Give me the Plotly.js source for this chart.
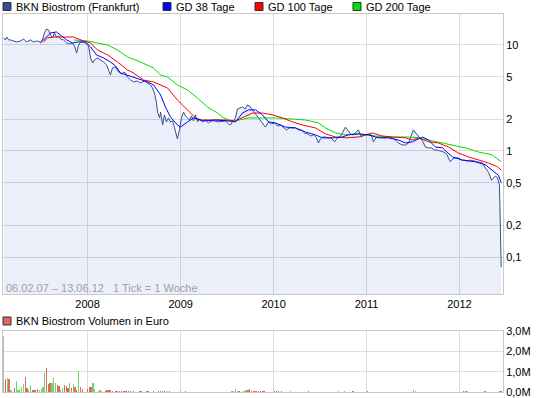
<!DOCTYPE html>
<html>
<head>
<meta charset="utf-8">
<script src="https://cdn.plot.ly/plotly-3.0.1.min.js"></script>
<style>
html,body{margin:0;padding:0;background:#fff;}
#chart{width:545px;height:398px;}
</style>
</head>
<body>
<div id="chart"></div>
<script>
// ---------- DATA ----------
const priceDates = [
'2007-02-06','2007-02-12','2007-02-18','2007-02-25','2007-03-05','2007-03-16','2007-03-28','2007-04-13','2007-04-25','2007-05-06',
'2007-05-22','2007-06-03','2007-06-15','2007-06-30','2007-07-08','2007-07-16','2007-07-24','2007-08-01','2007-08-09','2007-08-17',
'2007-08-24','2007-09-01','2007-09-09','2007-09-17','2007-09-29','2007-10-11','2007-10-22','2007-11-03','2007-11-11','2007-11-19',
'2007-11-27','2007-12-05','2007-12-16','2007-12-28','2008-01-05','2008-01-13','2008-01-21','2008-01-28','2008-02-09','2008-02-21',
'2008-03-04','2008-03-16','2008-03-23','2008-03-31','2008-04-08','2008-04-20','2008-05-02','2008-05-14','2008-05-25','2008-06-06',
'2008-06-18','2008-06-30','2008-07-15','2008-07-27','2008-08-12','2008-08-24','2008-09-04','2008-09-12','2008-09-20','2008-09-28',
'2008-10-02','2008-10-10','2008-10-14','2008-10-22','2008-10-29','2008-11-06','2008-11-14','2008-11-22','2008-11-30','2008-12-08',
'2008-12-16','2008-12-19','2008-12-27','2009-01-04','2009-01-12','2009-01-20','2009-01-28','2009-02-05','2009-02-12','2009-02-20',
'2009-02-28','2009-03-08','2009-03-16','2009-03-28','2009-04-08','2009-04-20','2009-05-02','2009-05-14','2009-05-29','2009-06-14',
'2009-06-26','2009-07-08','2009-07-16','2009-07-23','2009-08-04','2009-08-12','2009-08-24','2009-09-01','2009-09-12','2009-09-20',
'2009-09-28','2009-10-10','2009-10-22','2009-11-03','2009-11-14','2009-11-22','2009-11-30','2009-12-12','2009-12-24','2010-01-04',
'2010-01-16','2010-01-28','2010-02-09','2010-02-20','2010-03-04','2010-03-16','2010-03-28','2010-04-09','2010-04-20','2010-05-02',
'2010-05-14','2010-05-26','2010-06-07','2010-06-18','2010-06-26','2010-07-04','2010-07-12','2010-07-24','2010-08-04','2010-08-16',
'2010-08-28','2010-09-09','2010-09-21','2010-09-28','2010-10-10','2010-10-18','2010-10-30','2010-11-07','2010-11-18','2010-11-30',
'2010-12-12','2010-12-24','2011-01-08','2011-01-20','2011-01-28','2011-02-09','2011-02-25','2011-03-12','2011-03-28','2011-04-13',
'2011-04-25','2011-05-06','2011-05-22','2011-06-03','2011-06-15','2011-06-22','2011-07-04','2011-07-16','2011-07-28','2011-08-09',
'2011-08-20','2011-09-01','2011-09-13','2011-09-25','2011-10-06','2011-10-18','2011-10-30','2011-11-11','2011-11-19','2011-11-26',
'2011-12-04','2011-12-16','2011-12-28','2012-01-09','2012-01-20','2012-02-01','2012-02-13','2012-02-25','2012-03-08','2012-03-19',
'2012-03-31','2012-04-12','2012-04-24','2012-05-06','2012-05-13','2012-05-21','2012-05-29','2012-06-06','2012-06-13'
];
const priceValues = [
11.64,11.15,11.89,11.15,11.15,10.91,10.67,10.91,11.39,10.67,
11.15,10.67,10.91,10.67,11.15,12.98,14.16,13.85,12.42,11.64,
12.98,11.89,12.16,11.39,11.15,10.44,10.22,10.44,9.79,8.41,
10.0,10.67,10.67,10.22,9.79,7.54,6.76,7.22,7.54,7.22,
6.91,6.48,5.81,5.21,6.07,6.20,5.56,5.33,5.56,4.99,
4.67,4.48,4.57,4.38,4.57,4.38,4.20,3.93,3.52,2.84,
2.33,2.05,2.33,1.76,2.19,1.88,2.05,1.88,1.92,1.65,
1.385,1.30,1.58,2.05,2.33,2.14,2.05,1.96,2.14,1.92,
2.19,1.88,2.00,1.88,1.96,1.84,1.92,1.92,1.88,1.92,
1.92,1.80,1.76,1.88,2.05,2.49,2.54,2.60,2.49,2.72,
2.66,2.44,2.28,2.05,1.88,1.76,1.68,1.88,1.80,1.84,
1.72,1.76,1.65,1.58,1.65,1.65,1.65,1.58,1.58,1.48,
1.45,1.385,1.42,1.33,1.19,1.30,1.355,1.355,1.33,1.33,
1.22,1.33,1.385,1.48,1.68,1.58,1.45,1.42,1.48,1.58,
1.355,1.42,1.42,1.42,1.22,1.355,1.355,1.33,1.355,1.33,
1.27,1.19,1.14,1.14,1.19,1.33,1.58,1.45,1.355,1.24,
1.09,1.07,1.07,1.02,1.02,1.00,0.98,0.94,0.86,0.79,
0.84,0.86,0.86,0.82,0.82,0.805,0.82,0.805,0.79,0.79,
0.77,0.69,0.63,0.53,0.56,0.58,0.56,0.48,0.08
];

const gd38Dates = [
'2007-06-30','2007-07-20','2007-08-09','2007-09-01','2007-09-17','2007-10-11','2007-11-03','2007-11-23','2007-12-24','2008-01-13',
'2008-02-05','2008-03-04','2008-03-31','2008-04-20','2008-05-10','2008-06-30','2008-08-24','2008-09-16','2008-10-14','2008-11-02',
'2008-11-22','2008-12-19','2008-12-31','2009-01-28','2009-02-20','2009-04-01','2009-05-18','2009-07-08','2009-08-04','2009-09-01',
'2009-09-24','2009-10-22','2009-11-18','2009-12-12','2010-01-08','2010-02-17','2010-03-28','2010-05-06','2010-06-14','2010-07-12',
'2010-08-20','2010-09-28','2010-10-22','2010-11-30','2011-01-08','2011-02-17','2011-03-28','2011-05-06','2011-06-03','2011-06-30',
'2011-08-09','2011-09-01','2011-09-29','2011-10-26','2011-12-04','2012-01-13','2012-03-04','2012-04-12','2012-05-09','2012-06-02',
'2012-06-13'
];
const gd38Values = [
10.44,11.64,12.98,13.27,12.42,11.15,10.44,10.67,10.67,9.57,
8.05,7.54,6.91,6.34,5.44,4.99,4.48,4.20,3.38,2.60,
2.09,1.76,1.68,1.88,2.05,1.92,1.96,1.92,1.88,2.28,
2.44,2.44,2.19,1.88,1.84,1.68,1.65,1.51,1.42,1.33,
1.33,1.355,1.42,1.45,1.42,1.33,1.33,1.27,1.19,1.22,
1.355,1.27,1.09,1.07,0.88,0.82,0.79,0.74,0.66,0.59,
0.50
];

const gd100Dates = [
'2007-07-12','2007-07-28','2007-08-20','2007-11-07','2007-12-16','2008-01-13','2008-02-09','2008-03-20','2008-04-28','2008-06-06',
'2008-06-30','2008-08-08','2008-09-16','2008-10-14','2008-11-10','2008-12-19','2009-01-28','2009-02-28','2009-03-20','2009-05-10',
'2009-06-26','2009-08-04','2009-09-01','2009-10-10','2009-11-18','2009-12-28','2010-02-05','2010-03-16','2010-04-24','2010-06-14',
'2010-07-24','2010-09-01','2010-10-10','2010-11-30','2011-01-24','2011-03-04','2011-04-13','2011-06-03','2011-06-30','2011-07-24',
'2011-09-01','2011-10-10','2011-11-19','2011-12-28','2012-02-05','2012-03-15','2012-04-24','2012-05-29','2012-06-13'
];
const gd100Values = [
10.67,11.64,11.89,11.89,10.91,10.44,8.97,8.05,6.91,5.81,
5.44,4.67,4.48,4.20,3.93,3.03,2.44,2.05,1.96,1.96,
1.96,1.92,2.05,2.28,2.28,2.19,2.05,1.88,1.76,1.65,
1.45,1.355,1.33,1.355,1.48,1.385,1.355,1.33,1.27,1.33,
1.22,1.19,1.09,0.957,0.88,0.82,0.77,0.71,0.66
];

const gd200Dates = [
'2007-11-07','2008-01-01','2008-02-09','2008-03-20','2008-04-28','2008-06-06','2008-07-27','2008-09-16','2008-10-14','2008-11-10',
'2008-12-19','2009-01-28','2009-03-08','2009-04-16','2009-05-26','2009-06-14','2009-07-08','2009-08-04','2009-09-24','2009-11-03',
'2010-01-08','2010-03-16','2010-05-06','2010-06-26','2010-07-24','2010-09-01','2010-10-10','2010-11-30','2011-02-05','2011-04-13',
'2011-06-15','2011-07-24','2011-09-01','2011-10-10','2011-12-04','2012-01-24','2012-03-15','2012-05-09','2012-06-13'
];
const gd200Values = [
11.15,10.91,10.44,10.0,8.97,7.71,6.91,6.07,5.21,4.99,
4.20,3.76,3.16,2.60,2.28,2.09,1.96,1.92,2.05,2.05,
2.05,2.00,1.96,1.84,1.65,1.48,1.42,1.45,1.385,1.355,
1.355,1.33,1.27,1.22,1.14,1.07,0.98,0.917,0.79
];

// weekly volume in million euro; dir: 'd' = falling week (red), 'u' = rising week (green), 'n' = neutral
const volDates = [
'2007-02-06','2007-02-13','2007-02-20','2007-02-27','2007-03-06','2007-03-20','2007-03-27','2007-04-03','2007-04-10','2007-04-17',
'2007-04-24','2007-05-01','2007-05-08','2007-05-15','2007-05-22','2007-05-29','2007-06-05','2007-06-12','2007-06-19','2007-06-26',
'2007-07-03','2007-07-10','2007-07-17','2007-07-24','2007-07-31','2007-08-07','2007-08-14','2007-08-21','2007-08-28','2007-09-04',
'2007-09-11','2007-09-18','2007-09-25','2007-10-02','2007-10-09','2007-10-16','2007-10-23','2007-10-30','2007-11-06','2007-11-13',
'2007-11-20','2007-11-27','2007-12-04','2007-12-11','2008-01-01','2008-01-08','2008-01-15','2008-01-22','2008-01-29','2008-02-12',
'2008-02-19','2008-02-26','2008-03-11','2008-03-18','2008-03-25','2008-04-01','2008-04-08','2008-04-22','2008-04-29','2008-05-06',
'2008-05-13','2008-05-20','2008-05-27','2008-06-03','2008-06-10','2008-06-17','2008-07-01','2008-07-22','2008-07-29','2008-08-19',
'2008-08-26','2008-09-16','2008-10-07','2008-10-14','2008-10-21','2008-10-28','2008-11-11','2008-11-18','2008-12-30','2009-01-20',
'2009-07-21','2009-07-28','2009-08-04','2009-08-11','2009-08-18','2009-09-01','2009-09-08','2009-09-15','2009-09-22','2009-09-29',
'2009-10-06','2009-10-13','2009-10-20','2009-10-27','2009-11-03','2009-11-10','2009-11-17','2009-11-24','2010-01-05','2010-01-12',
'2010-01-19','2010-02-02','2010-03-09','2010-05-18','2010-09-14','2010-10-05','2010-11-09','2011-01-04','2011-07-05','2011-07-12',
'2012-01-17','2012-01-24','2012-01-31','2012-04-10','2012-06-05','2012-06-12'
];
const volValues = [
2.75,0.63,0.71,0.63,0.12,0.20,0.54,0.08,0.15,0.25,
0.41,0.76,0.20,0.12,0.32,0.08,0.12,0.08,0.15,0.12,
0.17,0.25,0.92,1.19,0.37,0.42,0.42,0.68,0.46,0.32,
0.29,0.12,0.20,0.32,0.29,0.22,0.42,0.20,0.37,0.24,
0.12,1.02,0.25,0.17,0.15,0.25,0.25,0.46,0.15,0.05,
0.08,0.07,0.05,0.08,0.12,0.08,0.05,0.04,0.04,0.04,
0.04,0.04,0.04,0.04,0.04,0.04,0.04,0.04,0.04,0.04,
0.04,0.04,0.04,0.04,0.04,0.04,0.04,0.04,0.04,0.04,
0.05,0.05,0.15,0.07,0.05,0.05,0.04,0.10,0.08,0.15,
0.05,0.07,0.05,0.05,0.04,0.03,0.05,0.04,0.04,0.04,
0.04,0.03,0.03,0.03,0.03,0.03,0.04,0.03,0.10,0.05,
0.05,0.04,0.04,0.03,0.03,0.05
];
const volDir = [
'n','d','u','d','u','d','u','u','u','u',
'u','d','d','u','u','d','d','d','d','u',
'u','u','u','d','d','d','u','u','u','d',
'd','u','u','d','d','d','u','d','u','d',
'd','u','d','d','d','d','d','u','u','u',
'u','u','d','d','d','d','d','d','d','d',
'd','d','d','d','d','d','u','d','d','d',
'd','d','d','d','d','d','u','d','u','d',
'u','u','u','u','d','u','d','u','d','d',
'd','d','d','d','d','d','d','d','d','d',
'd','d','u','d','u','u','d','d','u','u',
'd','d','u','d','d','d'
];

const yTickVals = [0.1, 0.2, 0.5, 1, 2, 5, 10];
const yTickText = ['0,1', '0,2', '0,5', '1', '2', '5', '10'];
const xTickVals = ['2008-01-01', '2009-01-01', '2010-01-01', '2011-01-01', '2012-01-01'];
const xTickText = ['2008', '2009', '2010', '2011', '2012'];
const volTickVals = [0, 1, 2, 3];
const volTickText = ['0,0M', '1,0M', '2,0M', '3,0M'];

const legendLabels = ['BKN Biostrom (Frankfurt)', 'GD 38 Tage', 'GD 100 Tage', 'GD 200 Tage'];
const volLegendLabel = 'BKN Biostrom Volumen in Euro';
const rangeNote = '06.02.07 \u2013 13.06.12\u00a0\u00a0\u00a01 Tick = 1 Woche';

// ---------- STYLE ----------
const W = 545, H = 398;
const M = {l: 3, r: 42, t: 14, b: 6};
const PW = W - M.l - M.r, PH = H - M.t - M.b;
const px = x => (x - M.l) / PW;
const py = y => (H - M.b - y) / PH;

const cPrice = '#34508c', cFill = 'rgba(40,80,200,0.095)';
const c38 = '#0000ff', c100 = '#ff0000', c200 = '#00e000';
const cUp = '#66dd66', cDown = '#e06666', cNeutral = '#b8b8b8';
const grid = '#dcdcdc', frame = '#c8c8c8';
const FONT = 'Liberation Sans, Arial, sans-serif';

const dirColor = {u: cUp, d: cDown, n: cNeutral};

const traces = [
  {x: priceDates, y: priceValues, type: 'scatter', mode: 'lines', fill: 'tozeroy', fillcolor: cFill,
   line: {color: cPrice, width: 1}, xaxis: 'x', yaxis: 'y'},
  {x: gd200Dates, y: gd200Values, type: 'scatter', mode: 'lines', line: {color: c200, width: 1}, xaxis: 'x', yaxis: 'y'},
  {x: gd100Dates, y: gd100Values, type: 'scatter', mode: 'lines', line: {color: c100, width: 1}, xaxis: 'x', yaxis: 'y'},
  {x: gd38Dates, y: gd38Values, type: 'scatter', mode: 'lines', line: {color: c38, width: 1}, xaxis: 'x', yaxis: 'y'},
  {x: volDates, y: volValues, type: 'bar', width: 5 * 86400000,
   marker: {color: volDir.map(d => dirColor[d]), line: {width: 0}}, xaxis: 'x2', yaxis: 'y2'}
];

const xRange = ['2007-02-03', '2012-06-20'];
const mainBottom = py(294), volTop = py(331);

const commonX = {
  type: 'date', range: xRange, tickvals: xTickVals, ticktext: xTickText,
  showgrid: true, gridcolor: grid, gridwidth: 1, zeroline: false,
  showline: true, mirror: true, linecolor: frame, linewidth: 1, ticks: '',
  tickfont: {family: FONT, size: 11, color: '#000'}
};

const legendColors = [cPrice, c38, c100, c200];
const legendX = [3, 163, 255, 353];
const shapes = [], annotations = [];
legendLabels.forEach((t, i) => {
  shapes.push({type: 'rect', xref: 'paper', yref: 'paper', x0: px(legendX[i]), x1: px(legendX[i] + 8),
    y0: py(10.5), y1: py(2.5), fillcolor: legendColors[i], line: {color: '#333', width: 1}});
  annotations.push({xref: 'paper', yref: 'paper', x: px(legendX[i] + 11), y: py(6.5), xanchor: 'left', yanchor: 'middle',
    text: t, showarrow: false, font: {family: FONT, size: 11, color: '#000'}});
});
shapes.push({type: 'rect', xref: 'paper', yref: 'paper', x0: px(3), x1: px(11), y0: py(325), y1: py(317),
  fillcolor: cDown, line: {color: '#333', width: 1}});
annotations.push({xref: 'paper', yref: 'paper', x: px(14), y: py(321), xanchor: 'left', yanchor: 'middle',
  text: volLegendLabel, showarrow: false, font: {family: FONT, size: 11, color: '#000'}});
annotations.push({xref: 'paper', yref: 'paper', x: px(4), y: py(288), xanchor: 'left', yanchor: 'middle',
  text: rangeNote, showarrow: false, font: {family: FONT, size: 11, color: '#a0a0a0'}});

const layout = {
  width: W, height: H, margin: M, paper_bgcolor: '#fff', plot_bgcolor: '#fff',
  showlegend: false, hovermode: false, bargap: 0,
  font: {family: FONT, size: 11, color: '#000'},
  xaxis: Object.assign({}, commonX, {anchor: 'y', domain: [0, 1]}),
  xaxis2: Object.assign({}, commonX, {anchor: 'y2', domain: [0, 1], showticklabels: false, matches: 'x'}),
  yaxis: {type: 'log', domain: [mainBottom, 1], range: [1.292, -1.349].reverse(), side: 'right',
    tickvals: yTickVals, ticktext: yTickText, showgrid: true, gridcolor: grid, zeroline: false,
    showline: true, mirror: true, linecolor: frame, ticks: '', anchor: 'x',
    tickfont: {family: FONT, size: 11, color: '#000'}},
  yaxis2: {domain: [0, volTop], range: [0, 3], side: 'right', tickvals: volTickVals, ticktext: volTickText,
    showgrid: true, gridcolor: grid, zeroline: false, showline: true, mirror: true, linecolor: frame,
    ticks: '', anchor: 'x2', tickfont: {family: FONT, size: 11, color: '#000'}},
  shapes: shapes, annotations: annotations
};

Plotly.newPlot('chart', traces, layout, {staticPlot: true, displayModeBar: false});
</script>
</body>
</html>
